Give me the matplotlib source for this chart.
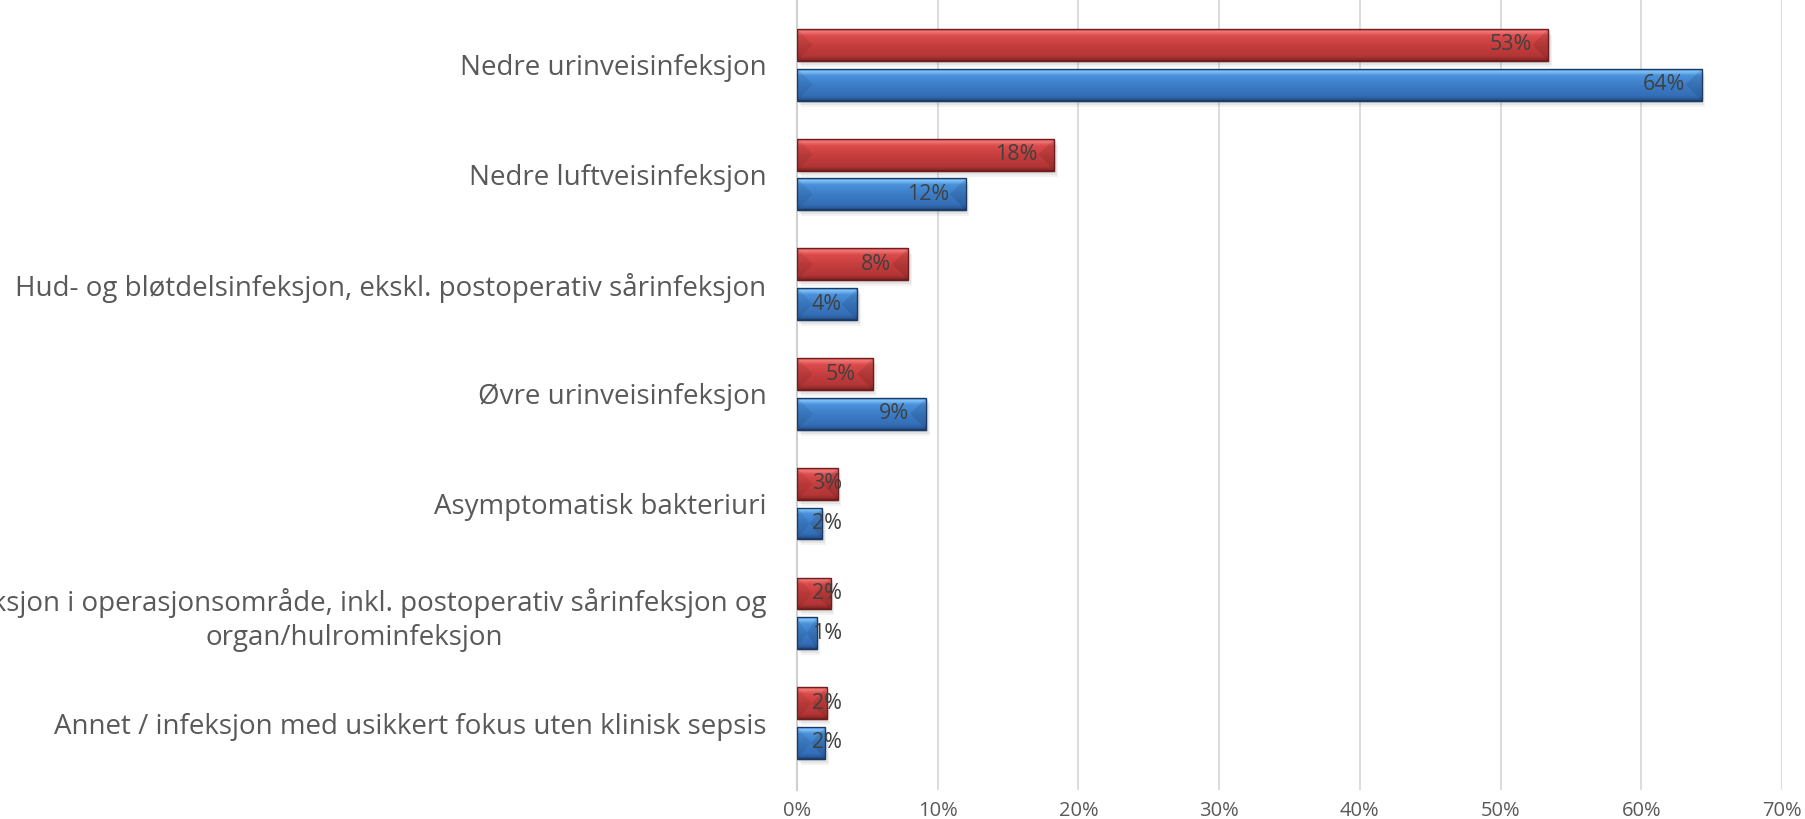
import numpy as np
import matplotlib
matplotlib.use('Agg')
import matplotlib.pyplot as plt
from matplotlib.patches import Polygon

plt.rcParams['font.family'] = ['Open Sans', 'DejaVu Sans']

# categories, top to bottom
categories = ['Nedre urinveisinfeksjon',
              'Nedre luftveisinfeksjon',
              'Hud- og bløtdelsinfeksjon, ekskl. postoperativ sårinfeksjon',
              'Øvre urinveisinfeksjon',
              'Asymptomatisk bakteriuri',
              'Infeksjon i operasjonsområde, inkl. postoperativ sårinfeksjon og\norgan/hulrominfeksjon',
              'Annet / infeksjon med usikkert fokus uten klinisk sepsis']
# percent values (red = upper bar, blue = lower bar)
red_vals = [53.4, 18.3, 7.9, 5.4, 2.9, 2.4, 2.1]
blue_vals = [64.3, 12.0, 4.3, 9.2, 1.8, 1.4, 2.0]
xticks = [0, 10, 20, 30, 40, 50, 60, 70]

# gradient stops for the bevelled bars (top -> bottom)
stops = [0.0, 0.07, 0.2, 0.5, 0.85, 0.94, 1.0]
red_cols = ['#d85050', '#f27a7a', '#dc4b4b', '#c73e3e', '#b33535', '#9a2c2c', '#6e1e1e']
blue_cols = ['#4f97e0', '#82c3f8', '#4a90da', '#3c7dc8', '#336db5', '#2b5c9a', '#1c3a66']


def gradient(cols, n=64):
    rgb = np.array([matplotlib.colors.to_rgb(c) for c in cols])
    t = np.linspace(0, 1, n)
    g = np.stack([np.interp(t, stops, rgb[:, k]) for k in range(3)], axis=1)
    return g[:, None, :]


fig = plt.figure(figsize=(18.06, 8.19), dpi=100)
ax = fig.add_axes([0.4413, 0.0354, 0.5454, 0.9646])

y = np.arange(len(categories))
off = 0.181
h = 0.29
px_x = 70.0 / 985   # data units per pixel (x)
px_y = 7.2 / 790    # data units per pixel (y)


def draw_bars(vals, ypos, cols):
    # soft shadow
    for s, a in [(6, 0.07), (4, 0.1), (2, 0.13)]:
        ax.barh(ypos + s * px_y, vals, height=h, left=s * px_x * 0.6, color='#606060',
                alpha=a, zorder=1, linewidth=0)
    bars = ax.barh(ypos, vals, height=h, color=cols[3], zorder=2, linewidth=0)
    img = gradient(cols)
    for b in bars:
        x0, y0, w, hh = b.get_x(), b.get_y(), b.get_width(), b.get_height()
        im = ax.imshow(img, extent=[x0, x0 + w, y0 + hh, y0], aspect='auto', zorder=3,
                       interpolation='bilinear')
        im.set_clip_path(b)
        # bevel wedges at both ends
        bw = min(16 * px_x, w / 2)
        ym = y0 + hh * 0.5
        ax.add_patch(Polygon([[x0, y0], [x0 + bw, ym], [x0, y0 + hh]],
                             closed=True, color='black', alpha=0.07, zorder=4, linewidth=0))
        ax.add_patch(Polygon([[x0 + w, y0], [x0 + w - bw, ym], [x0 + w, y0 + hh]],
                             closed=True, color='black', alpha=0.10, zorder=4, linewidth=0))
        ax.add_patch(plt.Rectangle((x0, y0), w, hh, fill=False, edgecolor=cols[-1],
                                   linewidth=1.0, zorder=5))
    # data labels
    for v, yy in zip(vals, ypos):
        ax.text(max(v - 1.2, 3.2), yy, f'{v:.0f}%', ha='right', va='center',
                fontsize=15.5, color='#404040', zorder=6)


draw_bars(red_vals, y - off, red_cols)
draw_bars(blue_vals, y + off, blue_cols)

ax.set_xlim(0, 70)
ax.set_ylim(6.61, -0.59)
ax.set_xticks(xticks)
ax.set_xticklabels([f'{t}%' for t in xticks], fontsize=14.5, color='#595959')
ax.set_yticks(y)
ax.set_yticklabels(categories, fontsize=20, color='#595959', multialignment='center',
                   linespacing=1.3)
ax.tick_params(axis='y', length=0, pad=22)
ax.tick_params(axis='x', length=0, pad=8)

ax.grid(axis='x', color='#d9d9d9', linewidth=1.3, zorder=0)
ax.set_axisbelow(True)
for s in ['top', 'right', 'bottom']:
    ax.spines[s].set_visible(False)
ax.spines['left'].set_color('#d0d0d0')
ax.spines['left'].set_linewidth(1.5)

fig.savefig('out.png', dpi=100)
